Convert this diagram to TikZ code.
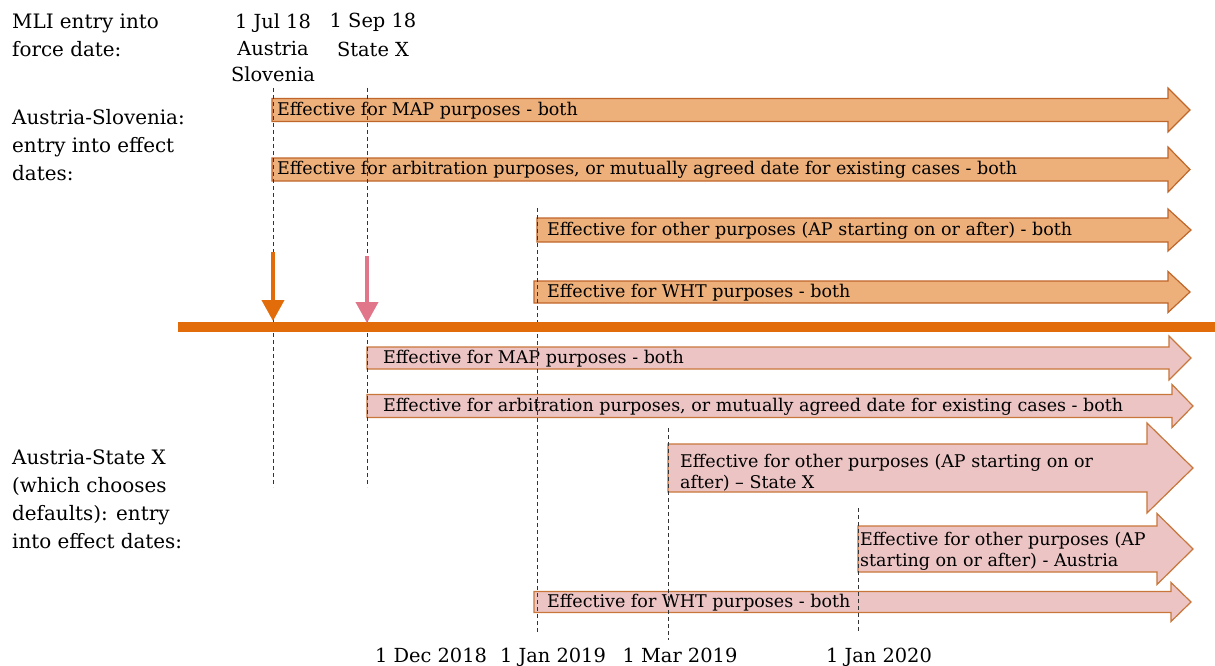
\documentclass[tikz,border=0pt]{standalone}
\usepackage{fontspec}
\setmainfont{DejaVu Serif}
\usetikzlibrary{arrows.meta}

\definecolor{asFill}{HTML}{EDB07A}
\definecolor{asEdge}{HTML}{C0662A}
\definecolor{sxFill}{HTML}{ECC4C4}
\definecolor{sxEdge}{HTML}{C8763A}
\definecolor{timeline}{HTML}{E26C0A}
\definecolor{sxMark}{HTML}{E17589}
\definecolor{guide}{HTML}{333333}

% block arrow: #1 style, #2 left x, #3 head base x, #4 tip x,
% #5 centre y, #6 half body height, #7 half head height
\newcommand{\effarrow}[7]{%
  \draw[#1] (#2,#5-#6) -- (#3,#5-#6) -- (#3,#5-#7) -- (#4,#5)
    -- (#3,#5+#7) -- (#3,#5+#6) -- (#2,#5+#6) -- cycle;}

\begin{document}
\begin{tikzpicture}[x=1pt,y=-1pt,
  lbl/.style={inner sep=0pt, anchor=base west, align=left,
    font=\fontsize{19.9}{28}\selectfont},
  datelbl/.style={inner sep=0pt, anchor=base, align=center,
    font=\fontsize{19.4}{26.5}\selectfont},
  efftext/.style={inner sep=0pt, anchor=base west, align=left,
    font=\fontsize{17.5}{21}\selectfont},
  asarrow/.style={fill=asFill, draw=asEdge, line width=1.2pt, line join=miter},
  sxarrow/.style={fill=sxFill, draw=sxEdge, line width=1.2pt, line join=miter},
  guideline/.style={draw=guide, line width=1pt, dash pattern=on 4pt off 3pt},
  bar/.style={draw=timeline, line width=10pt},
  marker/.style={line width=4pt, -{Triangle[width=22pt,length=21pt]}}]

\useasboundingbox (0,0) rectangle (1215,666);

% ---- Austria-Slovenia periods
\effarrow{asarrow}{272}{1168}{1190}{110}{11.5}{22}
\effarrow{asarrow}{272}{1168}{1190}{169.5}{11.5}{22.5}
\effarrow{asarrow}{537}{1168}{1191}{230}{12}{21}
\effarrow{asarrow}{534}{1168}{1190}{292}{11}{20.5}

% ---- Austria-State X periods
\effarrow{sxarrow}{367}{1169}{1191}{358}{11}{22}
\effarrow{sxarrow}{367}{1172}{1193}{406}{11.5}{21.5}
\effarrow{sxarrow}{668}{1147}{1193}{468}{24}{45}
\effarrow{sxarrow}{858}{1157}{1193}{549}{23}{35.5}
\effarrow{sxarrow}{534}{1171}{1191}{602}{10.5}{19.5}

% ---- texts inside the arrows (base = last line)
\node[efftext] (as1) at (277,115.5) {Effective for MAP purposes - both};
\node[efftext] (as2) at (277,175) {Effective for arbitration purposes, or mutually agreed date for existing cases - both};
\node[efftext] (as3) at (547,235.5) {Effective for other purposes (AP starting on or after) - both};
\node[efftext] (as4) at (547,297.5) {Effective for WHT purposes - both};
\node[efftext] (sx1) at (383,363.5) {Effective for MAP purposes - both};
\node[efftext] (sx2) at (383,411.5) {Effective for arbitration purposes, or mutually agreed date for existing cases - both};
\node[efftext] (sx3) at (680,488) {Effective for other purposes (AP starting on or\\after) -- State X};
\node[efftext] (sx4) at (860,566) {Effective for other purposes (AP\\starting on or after) - Austria};
\node[efftext] (sx5) at (547,607.5) {Effective for WHT purposes - both};

% ---- row labels
\node[lbl] (mli) at (12,57) {MLI entry into\\force date:};
\node[lbl] (asl) at (12,180) {Austria-Slovenia:\\entry into effect\\dates:};
\node[lbl] (asx) at (12,548) {Austria-State X\\(which chooses\\defaults): entry\\into effect dates:};

% ---- entry into force dates
\node[datelbl] (jul18) at (273,82) {1 Jul 18\\Austria\\Slovenia};
\node[datelbl] (sep18) at (373,57) {1 Sep 18\\[3pt]State X};

% ---- effect dates
\node[datelbl] (dec18) at (431,662) {1 Dec 2018};
\node[datelbl] (jan19) at (553,662) {1 Jan 2019};
\node[datelbl] (mar19) at (680,662) {1 Mar 2019};
\node[datelbl] (jan20) at (879,662) {1 Jan 2020};

% ---- guide lines
\coordinate (g1t) at (273,88);  \coordinate (g1b) at (273,487);
\coordinate (g2t) at (367,88);  \coordinate (g2b) at (367,487);
\coordinate (g3t) at (537,208); \coordinate (g3b) at (537,632);
\coordinate (g4t) at (668,428); \coordinate (g4b) at (668,640);
\coordinate (g5t) at (858,508); \coordinate (g5b) at (858,632);
\draw[guideline] (g1t) -- (g1b);
\draw[guideline] (g2t) -- (g2b);
\draw[guideline] (g3t) -- (g3b);
\draw[guideline] (g4t) -- (g4b);
\draw[guideline] (g5t) -- (g5b);

% ---- timeline and entry into force markers
\coordinate (tl0) at (178,327); \coordinate (tl1) at (1215,327);
\draw[bar] (tl0) -- (tl1);
\coordinate (m1t) at (273,252); \coordinate (m1b) at (273,321);
\coordinate (m2t) at (367,256); \coordinate (m2b) at (367,323);
\draw[marker, timeline] (m1t) -- (m1b);
\draw[marker, sxMark] (m2t) -- (m2b);

\end{tikzpicture}
\end{document}
